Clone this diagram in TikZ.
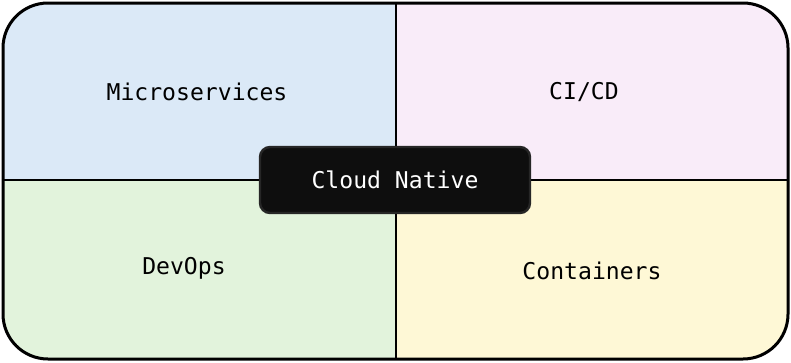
\documentclass[tikz,border=0pt]{standalone}
\usepackage{fontspec}
\setmonofont{DejaVu Sans Mono}
\definecolor{qblue}{HTML}{DBE9F7}
\definecolor{qpink}{HTML}{F9ECF9}
\definecolor{qgreen}{HTML}{E2F3DC}
\definecolor{qyellow}{HTML}{FEF8D6}
\definecolor{coreblk}{HTML}{0E0E0E}
\definecolor{coreedge}{HTML}{262626}
\tikzset{
  lbl/.style={font=\ttfamily\fontsize{23.1}{26}\selectfont, text=black, inner sep=0pt},
  divider/.style={line width=2.8pt, draw=black},
  outer/.style={line width=3pt, draw=black, rounded corners=45pt},
  core/.style={fill=coreblk, draw=coreedge, line width=2.4pt, rounded corners=10pt,
    minimum width=270pt, minimum height=66pt, inner sep=0pt,
    font=\ttfamily\fontsize{23.1}{26}\selectfont, text=white}
}
\begin{document}
\begin{tikzpicture}[x=1pt,y=-1pt]
\useasboundingbox (0,0) rectangle (791,362);
\begin{scope}
  \clip[rounded corners=45pt] (3,3) rectangle (788,359);
  \fill[qblue] (0,0) rectangle (396,180);
  \fill[qpink] (396,0) rectangle (791,180);
  \fill[qgreen] (0,180) rectangle (396,362);
  \fill[qyellow] (396,180) rectangle (791,362);
  \coordinate (vt) at (396,0);
  \coordinate (vb) at (396,362);
  \coordinate (hl) at (0,180);
  \coordinate (hr) at (791,180);
  \draw[divider] (vt) -- (vb);
  \draw[divider] (hl) -- (hr);
\end{scope}
\draw[outer] (3,3) rectangle (788,359);
\node[lbl] (micro) at (197,92) {Microservices};
\node[lbl] (cicd) at (584,92) {CI/CD};
\node[lbl] (devops) at (184,268) {DevOps};
\node[lbl] (cont) at (592,271) {Containers};
\node[core] (cloud) at (395,180) {Cloud Native};
\end{tikzpicture}
\end{document}
